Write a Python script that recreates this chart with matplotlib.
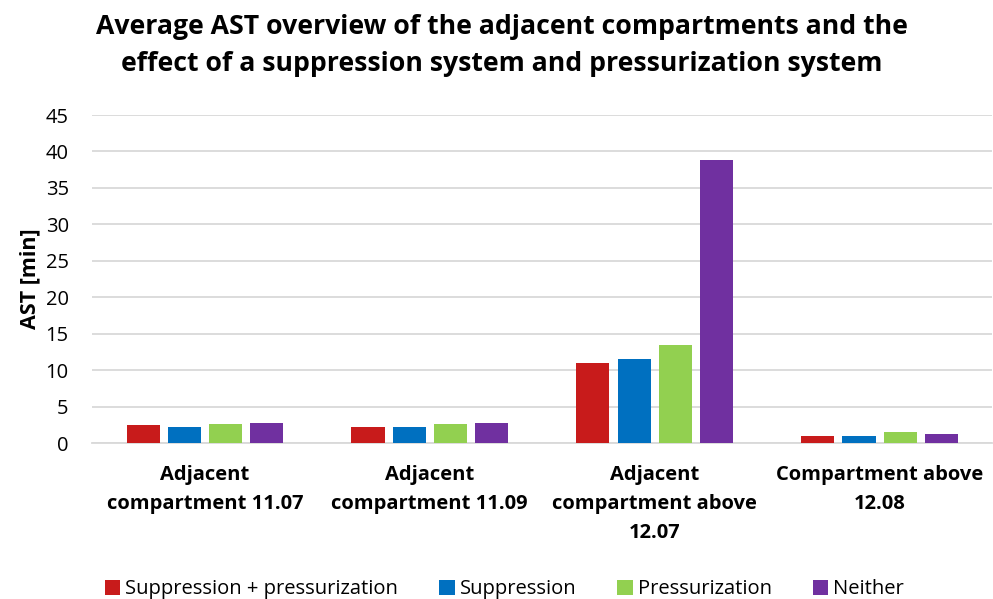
import numpy as np
import matplotlib.pyplot as plt

plt.rcParams['font.family'] = ['Open Sans', 'DejaVu Sans']

categories = ["Adjacent\ncompartment 11.07", "Adjacent\ncompartment 11.09",
              "Adjacent\ncompartment above\n12.07", "Compartment above\n12.08"]
series = ["Suppression + pressurization", "Suppression", "Pressurization", "Neither"]
supp_press = [2.5, 2.2, 11.0, 1.0]
supp = [2.2, 2.2, 11.5, 0.95]
press = [2.7, 2.7, 13.5, 1.5]
neither = [2.75, 2.75, 38.8, 1.3]
colors = ["#C81B1B", "#0070C0", "#92D050", "#7030A0"]

fig = plt.figure(figsize=(9.93, 5.99), dpi=100)
ax = fig.add_axes([0.093, 0.26, 0.906, 0.548])

x = np.arange(len(categories))
pitch = 0.183
width = 0.147
for i, (vals, name) in enumerate(zip([supp_press, supp, press, neither], series)):
    ax.bar(x + (i - 1.5) * pitch, vals, width, color=colors[i], label=name, zorder=3)

ax.set_xlim(-0.5, 3.5)
ax.set_ylim(0, 45)
ax.set_yticks(np.arange(0, 46, 5))
ax.grid(axis='y', color='#d9d9d9', linewidth=1.3, zorder=0)
for s in ['top', 'right', 'left']:
    ax.spines[s].set_visible(False)
ax.spines['bottom'].set_color('#d9d9d9')
ax.spines['bottom'].set_linewidth(1.3)
ax.tick_params(length=0, colors='black')
ax.tick_params(axis='y', pad=17, labelsize=14.5)
ax.set_xticks(x)
ax.set_xticklabels(categories, fontweight='bold', fontsize=14.5, linespacing=1.6)
ax.tick_params(axis='x', pad=16)
ax.set_ylabel("AST [min]", fontweight='bold', fontsize=15.5, labelpad=4)

fig.suptitle("Average AST overview of the adjacent compartments and the\n"
             "effect of a suppression system and pressurization system",
             fontweight='bold', fontsize=19.2, x=0.505, y=0.977, linespacing=1.55)

fig.legend(loc='lower center', ncol=4, frameon=False, fontsize=14.5,
           bbox_to_anchor=(0.508, -0.031), handlelength=0.75, handleheight=0.75,
           columnspacing=2.05, handletextpad=0.25)

fig.savefig("out.png", dpi=100)
